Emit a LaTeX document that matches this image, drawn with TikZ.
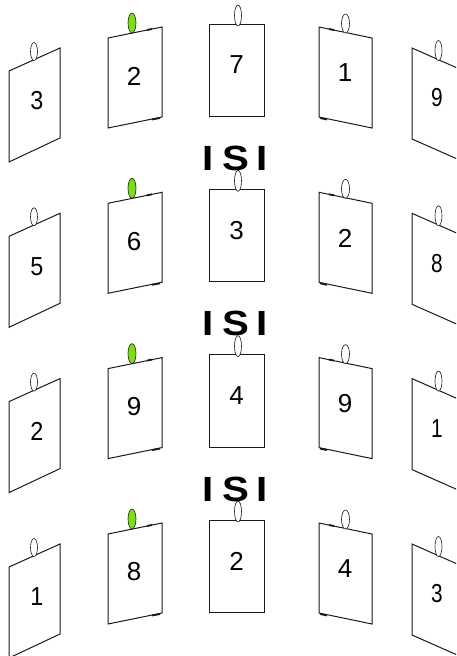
\documentclass[tikz,border=0pt]{standalone}
\usepackage{fontspec}
\setmainfont{Liberation Sans}
\definecolor{Edge}{HTML}{1A1A1A}
\definecolor{Lime}{HTML}{7CDC1A}
\tikzset{
  card/.style={draw=Edge, fill=white, line width=1pt},
  nick/.style={draw=Edge, line width=1.8pt},
  ring/.style={draw=Edge, fill=#1, line width=0.6pt},
  ring/.default=white,
  digit/.style={font=\fontsize{26}{26}\selectfont, inner sep=0pt},
  isi/.style={font=\fontsize{35}{35}\selectfont\bfseries, inner sep=0pt, anchor=base, xscale=1.15},
  pics/farleft/.style={code={
    \draw[card] (9,71) -- (60,48) -- (60,138) -- (9,162) -- cycle;
    \draw[ring] (34,51.5) ellipse [x radius=3.5, y radius=9];
    \node[digit, xscale=0.9] (-num) at (37,101) {#1};
  }},
  pics/nearleft/.style={code={
    \draw[card] (108,38) -- (162,27) -- (162,117) -- (108,128) -- cycle;
    \draw[nick] (147,30) -- (152,29);
    \draw[nick] (152,119.5) -- (160,118);
    \draw[ring=Lime] (132,23) ellipse [x radius=4, y radius=10];
    \node[digit] (-num) at (134,76) {#1};
  }},
  pics/middle/.style={code={
    \draw[card] (209,24) rectangle (264,116.5);
    \draw[ring] (238,15.5) ellipse [x radius=3.5, y radius=10.5];
    \node[digit] (-num) at (236.5,65) {#1};
  }},
  pics/nearright/.style={code={
    \draw[card] (319,27) -- (372,38) -- (372,128) -- (319,117) -- cycle;
    \draw[nick] (329,29) -- (334,30);
    \draw[nick] (320,118) -- (327,119.5);
    \draw[ring] (345.5,23.5) ellipse [x radius=4, y radius=9.5];
    \node[digit] (-num) at (345,73) {#1};
  }},
  pics/farright/.style={code={
    \draw[card] (412,48) -- (464,71) -- (464,162) -- (412,139) -- cycle;
    \draw[ring] (438.5,50.5) ellipse [x radius=3.5, y radius=10];
    \node[digit, xscale=0.8] (-num) at (437,98) {#1};
  }}
}
\begin{document}
\begin{tikzpicture}[x=1pt, y=-1pt]
  \useasboundingbox (0,0) rectangle (456,656);
  \clip (0,0) rectangle (456,656);
  \fill[white] (0,0) rectangle (456,656);

  % trial 1
  \pic (t1a) at (0,0) {farleft=3};
  \pic (t1b) at (0,0) {nearleft=2};
  \pic (t1c) at (0,0) {middle=7};
  \pic (t1d) at (0,0) {nearright=1};
  \pic (t1e) at (0,0) {farright=9};

  % trial 2
  \pic (t2a) at (0,165.3) {farleft=5};
  \pic (t2b) at (0,165.3) {nearleft=6};
  \pic (t2c) at (0,165.3) {middle=3};
  \pic (t2d) at (0,165.3) {nearright=2};
  \pic (t2e) at (0,165.3) {farright=8};

  % trial 3
  \pic (t3a) at (0,330.6) {farleft=2};
  \pic (t3b) at (0,330.6) {nearleft=9};
  \pic (t3c) at (0,330.6) {middle=4};
  \pic (t3d) at (0,330.6) {nearright=9};
  \pic (t3e) at (0,330.6) {farright=1};

  % trial 4
  \pic (t4a) at (0,496) {farleft=1};
  \pic (t4b) at (0,496) {nearleft=8};
  \pic (t4c) at (0,496) {middle=2};
  \pic (t4d) at (0,496) {nearright=4};
  \pic (t4e) at (0,496) {farright=3};

  % inter-stimulus gaps
  \node[isi] (isi1) at (235.5,170.5) {I\hspace{7pt}S\hspace{7pt}I};
  \node[isi] (isi2) at (235.5,335.8) {I\hspace{7pt}S\hspace{7pt}I};
  \node[isi] (isi3) at (235.5,501.1) {I\hspace{7pt}S\hspace{7pt}I};
\end{tikzpicture}
\end{document}
